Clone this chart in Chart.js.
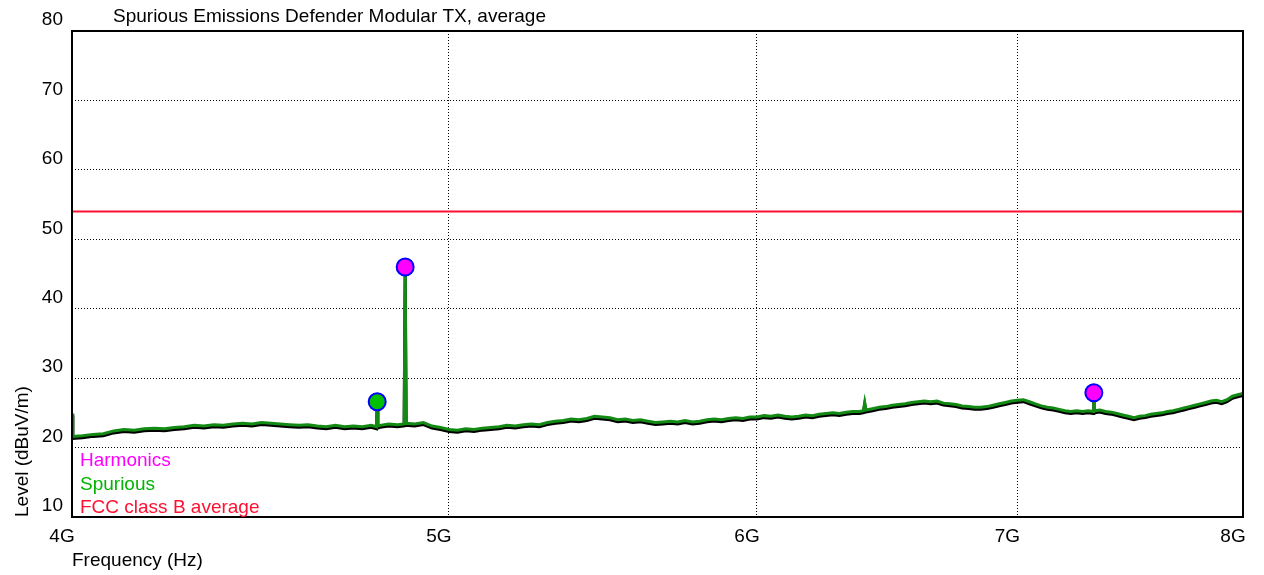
<!DOCTYPE html>
<html>
<head>
<meta charset="utf-8">
<script src="https://cdn.jsdelivr.net/npm/chart.js@4.4.1/dist/chart.umd.min.js"></script>
<style>
  body { margin: 0; background: #fff; }
  #wrap { width: 1264px; height: 575px; }
</style>
</head>
<body>
<div id="wrap"><canvas id="emissions-chart"></canvas></div>
<script>
/**
 * Data
 */
const chartTitle = 'Spurious Emissions Defender Modular TX, average';
const xTicks = [4, 5, 6, 7, 8];           // GHz
const yTicks = [10, 20, 30, 40, 50, 60, 70, 80];

// measured trace (GHz, dBuV/m)
const scanFreq = [
  4.000, 4.002, 4.025, 4.050, 4.075, 4.100, 4.125, 4.150, 4.175, 4.200,
  4.225, 4.250, 4.275, 4.300, 4.325, 4.350, 4.375, 4.400, 4.425, 4.450,
  4.475, 4.500, 4.525, 4.550, 4.575, 4.600, 4.625, 4.650, 4.675, 4.700,
  4.725, 4.750, 4.775, 4.790, 4.792, 4.794, 4.800, 4.825, 4.850, 4.869,
  4.872, 4.875, 4.900, 4.925, 4.950, 4.975, 5.000, 5.025, 5.050, 5.075,
  5.100, 5.125, 5.150, 5.175, 5.200, 5.225, 5.250, 5.275, 5.300, 5.325,
  5.350, 5.375, 5.400, 5.425, 5.450, 5.475, 5.500, 5.525, 5.550, 5.575,
  5.600, 5.625, 5.650, 5.675, 5.700, 5.725, 5.750, 5.775, 5.800, 5.825,
  5.850, 5.875, 5.900, 5.925, 5.950, 5.975, 6.000, 6.025, 6.050, 6.075,
  6.100, 6.125, 6.150, 6.175, 6.200, 6.225, 6.250, 6.275, 6.300, 6.325,
  6.350, 6.375, 6.390, 6.395, 6.400, 6.425, 6.450, 6.475, 6.500, 6.525,
  6.550, 6.575, 6.600, 6.625, 6.650, 6.675, 6.700, 6.725, 6.750, 6.775,
  6.800, 6.825, 6.850, 6.875, 6.900, 6.925, 6.950, 6.975, 7.000, 7.025,
  7.050, 7.075, 7.100, 7.125, 7.150, 7.175, 7.200, 7.225, 7.250, 7.275,
  7.300, 7.322, 7.324, 7.326, 7.350, 7.375, 7.400, 7.425, 7.450, 7.475,
  7.500, 7.525, 7.550, 7.575, 7.600, 7.625, 7.650, 7.675, 7.700, 7.725,
  7.750, 7.775, 7.800, 7.825, 7.850, 7.875, 7.900, 7.925, 7.950, 7.975,
  8.000
];
const scanLevel = [
  24.9, 21.6, 21.7, 21.9, 22.0, 22.4, 22.6, 22.5, 22.7, 22.8,
  22.7, 22.9, 23.0, 23.2, 23.1, 23.3, 23.2, 23.4, 23.5, 23.4,
  23.6, 23.5, 23.4, 23.3, 23.2, 23.3, 23.1, 23.0, 23.2, 23.0,
  23.1, 23.0, 23.2, 23.0, 26.6, 23.1, 23.2, 23.4, 23.3, 23.4,
  46.0, 23.5, 23.4, 23.6, 23.1, 22.9, 22.6, 22.5, 22.7, 22.6,
  22.8, 22.9, 23.0, 23.2, 23.1, 23.3, 23.4, 23.3, 23.6, 23.8,
  23.9, 24.1, 24.0, 24.2, 24.5, 24.4, 24.3, 24.0, 24.1, 23.9,
  24.0, 23.8, 23.6, 23.7, 23.8, 23.7, 23.9, 23.7, 23.8, 24.0,
  24.1, 24.0, 24.2, 24.3, 24.2, 24.4, 24.4, 24.6, 24.5, 24.7,
  24.5, 24.4, 24.5, 24.7, 24.6, 24.8, 24.9, 25.0, 24.9, 25.1,
  25.2, 25.2, 25.3, 26.5, 25.4, 25.6, 25.8, 25.9, 26.1, 26.2,
  26.3, 26.5, 26.6, 26.7, 26.6, 26.7, 26.4, 26.3, 26.2, 26.0,
  25.9, 25.8, 25.8, 25.9, 26.1, 26.3, 26.5, 26.7, 26.8, 26.9,
  26.6, 26.3, 26.0, 25.8, 25.7, 25.5, 25.3, 25.2, 25.3, 25.2,
  25.3, 25.2, 27.9, 25.3, 25.4, 25.2, 25.1, 24.9, 24.7, 24.5,
  24.3, 24.5, 24.6, 24.8, 24.9, 25.0, 25.2, 25.3, 25.5, 25.7,
  25.9, 26.1, 26.3, 26.5, 26.7, 26.8, 26.6, 26.9, 27.4, 27.6,
  27.8
];

// marked peaks
const harmonicFreq = [4.872, 7.324];
const harmonicLevel = [46.0, 27.9];
const spuriousFreq = [4.792];
const spuriousLevel = [26.6];

// FCC class B average limit
const limitFreq = [4, 8];
const limitLevel = [54, 54];

/**
 * Methods
 */
const toPoints = (xs, ys) => xs.map((x, i) => ({ x: x, y: ys[i] }));
const FONT = { family: "'Liberation Sans', Arial, sans-serif", size: 19 };

// white background, plot box, title and in-plot legend
const framePlugin = {
  id: 'frame',
  beforeDraw(chart) {
    const { ctx } = chart;
    ctx.save();
    ctx.fillStyle = '#fff';
    ctx.fillRect(0, 0, chart.width, chart.height);
    ctx.restore();
  },
  beforeDatasetDraw(chart, args) {
    if (args.index === 2) {
      chart.ctx.save();
      chart.ctx.shadowColor = '#000';
      chart.ctx.shadowOffsetY = 2;
      chart.ctx.shadowBlur = 0;
    }
  },
  afterDatasetDraw(chart, args) {
    if (args.index === 2) chart.ctx.restore();
  },
  afterDraw(chart) {
    const { ctx, chartArea: a } = chart;
    ctx.save();
    ctx.strokeStyle = '#000';
    ctx.lineWidth = 2;
    ctx.strokeRect(a.left, a.top, a.right - a.left, a.bottom - a.top);

    ctx.font = FONT.size + 'px ' + FONT.family;
    ctx.textBaseline = 'middle';
    ctx.textAlign = 'left';
    ctx.fillStyle = '#000';
    ctx.fillText(chartTitle, a.left + 41, 17);

    const items = chart.data.datasets.filter(d => d.legendColor);
    items.forEach((d, i) => {
      ctx.fillStyle = d.legendColor;
      ctx.fillText(d.label, a.left + 8, a.bottom - 56 + i * 23.5);
    });
    ctx.restore();
  }
};

const createGraphic = () => {
  const ctx = document.getElementById('emissions-chart').getContext('2d');

  new Chart(ctx, {
    type: 'line',
    data: {
      datasets: [
        {
          label: 'Harmonics',
          data: toPoints(harmonicFreq, harmonicLevel),
          showLine: false,
          pointRadius: 8.5,
          pointBackgroundColor: '#ff00ff',
          pointBorderColor: '#0000ff',
          pointBorderWidth: 2,
          legendColor: '#ff00ff'
        },
        {
          label: 'Spurious',
          data: toPoints(spuriousFreq, spuriousLevel),
          showLine: false,
          pointRadius: 8.5,
          pointBackgroundColor: '#00c000',
          pointBorderColor: '#0000ff',
          pointBorderWidth: 2,
          legendColor: '#00b400'
        },
        {
          label: 'Scan',
          data: toPoints(scanFreq, scanLevel),
          borderColor: '#138a13',
          borderWidth: 3,
          pointRadius: 0,
          tension: 0
        },
        {
          label: 'FCC class B average',
          data: toPoints(limitFreq, limitLevel),
          borderColor: '#ff1030',
          borderWidth: 2,
          pointRadius: 0,
          legendColor: '#ff1030'
        }
      ]
    },
    options: {
      responsive: true,
      maintainAspectRatio: false,
      animation: false,
      layout: { padding: { top: 31, right: 21, left: 0, bottom: 0 } },
      plugins: {
        legend: { display: false },
        tooltip: { enabled: false }
      },
      scales: {
        x: {
          type: 'logarithmic',
          min: 4,
          max: 8,
          afterBuildTicks: s => { s.ticks = xTicks.map(v => ({ value: v })); },
          afterFit: s => { s.height = 58; },
          grid: { color: '#000', lineWidth: 1, drawTicks: false },
          border: { display: false, dash: [1, 2] },
          ticks: {
            color: '#000',
            font: FONT,
            padding: 8,
            labelOffset: -10,
            maxRotation: 0,
            autoSkip: false,
            callback: v => v + 'G'
          },
          title: {
            display: true,
            text: 'Frequency (Hz)',
            align: 'start',
            color: '#000',
            font: FONT,
            padding: { top: 0, bottom: 3 }
          }
        },
        y: {
          min: 10,
          max: 80,
          afterBuildTicks: s => { s.ticks = yTicks.map(v => ({ value: v })); },
          afterFit: s => { s.width = 72; },
          grid: { color: '#000', lineWidth: 1, drawTicks: false },
          border: { display: false, dash: [1, 2] },
          ticks: {
            color: '#000',
            font: FONT,
            padding: 9,
            labelOffset: -11
          },
          title: {
            display: true,
            text: 'Level (dBuV/m)',
            align: 'start',
            color: '#000',
            font: FONT,
            padding: { top: 11, bottom: 0 }
          }
        }
      }
    },
    plugins: [framePlugin]
  });
};

/**
 * Events
 */
document.addEventListener('DOMContentLoaded', () => {
  createGraphic();
});
</script>
</body>
</html>
